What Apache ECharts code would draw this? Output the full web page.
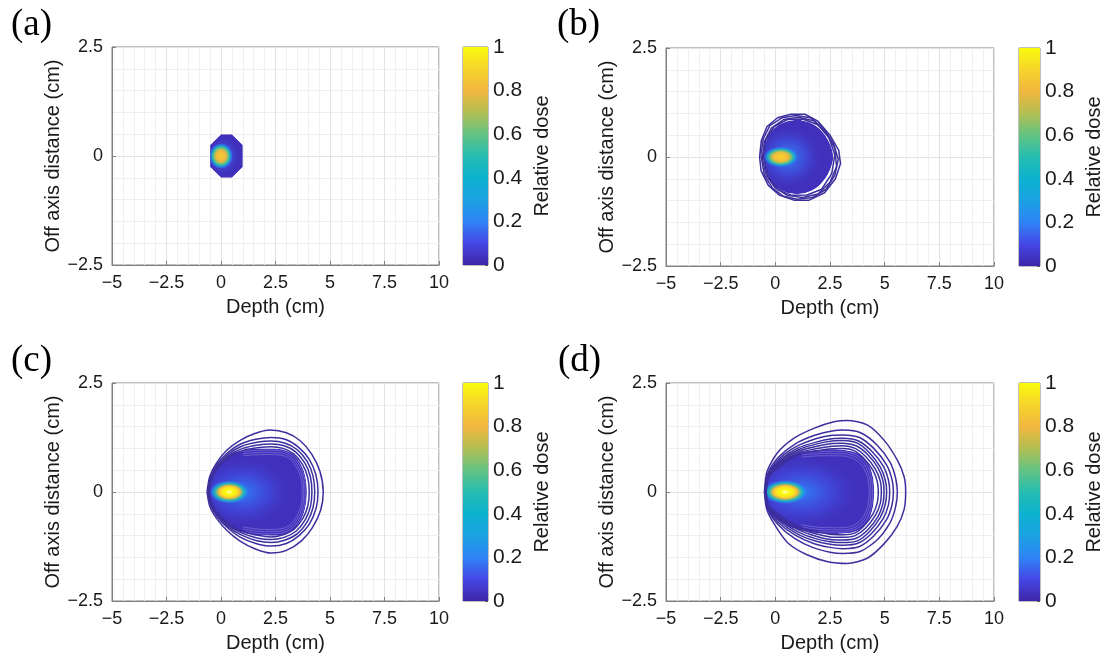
<!DOCTYPE html>
<html>
<head>
<meta charset="utf-8">
<title>Relative dose distributions</title>
<script src="https://cdn.jsdelivr.net/npm/echarts@6/dist/echarts.min.js"></script>
<style>
  html, body { margin: 0; padding: 0; background: #fff; }
  #chart { width: 1105px; height: 656px; }
</style>
</head>
<body>
<div id="chart"></div>
<script>
// axis ticks
const depthTicks = [-5, -2.5, 0, 2.5, 5, 7.5, 10];
const offAxisTicks = [-2.5, 0, 2.5];
const doseTicks = [0, 0.2, 0.4, 0.6, 0.8, 1];
const panelLabels = ['(a)', '(b)', '(c)', '(d)'];

// filled dose region outlines [depth, off axis] (cm)
const regionA = [[-0.5, 0.25], [0, 0.5], [0.5, 0.5], [1.0, 0.25], [1.0, -0.25], [0.5, -0.5], [0, -0.5], [-0.5, -0.25]];
const regionB = [[-0.52, 0], [-0.42, 0.36], [-0.05, 0.66], [0.55, 0.82], [1.25, 0.84], [1.9, 0.7], [2.4, 0.4], [2.65, 0],
  [2.4, -0.4], [1.9, -0.7], [1.25, -0.84], [0.55, -0.82], [-0.05, -0.66], [-0.42, -0.36]];
const regionC = [[-0.52, 0], [-0.42, 0.32], [-0.05, 0.64], [0.5, 0.88], [1.2, 0.98], [2.0, 1.0], [2.8, 0.98], [3.35, 0.85],
  [3.75, 0.55], [3.92, 0.2], [3.92, -0.2], [3.75, -0.55], [3.35, -0.85], [2.8, -0.98], [2.0, -1.0], [1.2, -0.96],
  [0.5, -0.84], [-0.05, -0.6], [-0.42, -0.3]];
const regionD = [[-0.5, 0], [-0.45, 0.22], [0.03, 0.64], [0.95, 0.88], [2.0, 0.97], [3.0, 0.97], [3.7, 0.9], [4.2, 0.7],
  [4.45, 0.38], [4.52, 0], [4.45, -0.38], [4.2, -0.7], [3.7, -0.9], [3.0, -0.96], [2.0, -0.95], [0.95, -0.85],
  [0.03, -0.6], [-0.45, -0.2]];

// broad low-dose glow: [depth, off, half width, half height, dose]
const glowA = [0.1, 0, 0.8, 0.45, 0.22];
const glowB = [0.6, 0, 1.6, 0.75, 0.22];
const glowC = [1.0, 0, 2.4, 0.85, 0.2];
const glowD = [1.2, 0, 2.8, 0.9, 0.2];

// high-dose core: [depth, off, half width, half height, peak dose]
const hotA = [0.0, 0, 0.55, 0.3, 0.85];
const hotB = [0.25, 0, 0.8, 0.24, 0.87];
const hotC = [0.38, 0, 0.92, 0.27, 1.0];
const hotD = [0.45, 0, 1.05, 0.28, 1.0];

// isodose contour lines [depth, off axis] (cm)
const contoursB = [
  [[-0.72, 0.0], [-0.64, 0.38], [-0.38, 0.7], [0.1, 0.9], [0.7, 0.98], [1.35, 0.98], [1.95, 0.82], [2.5, 0.5], [2.9, 0.15],
   [2.98, -0.15], [2.75, -0.5], [2.25, -0.82], [1.55, -0.99], [0.85, -0.99], [0.2, -0.88], [-0.32, -0.65], [-0.65, -0.32]],
  [[-0.66, 0.05], [-0.55, 0.42], [-0.25, 0.72], [0.3, 0.9], [0.95, 0.95], [1.6, 0.9], [2.2, 0.66], [2.65, 0.32], [2.88, -0.05],
   [2.72, -0.42], [2.32, -0.74], [1.7, -0.93], [1.0, -0.97], [0.38, -0.9], [-0.12, -0.72], [-0.5, -0.42]],
  [[-0.6, -0.04], [-0.5, 0.36], [-0.18, 0.66], [0.38, 0.86], [1.05, 0.91], [1.75, 0.83], [2.32, 0.56], [2.72, 0.2],
   [2.8, -0.22], [2.5, -0.58], [1.95, -0.85], [1.25, -0.93], [0.55, -0.88], [-0.02, -0.7], [-0.42, -0.42]],
  [[-0.55, 0.0], [-0.44, 0.38], [-0.05, 0.7], [0.55, 0.86], [1.25, 0.87], [1.95, 0.74], [2.45, 0.44], [2.72, 0.05],
   [2.58, -0.38], [2.12, -0.74], [1.45, -0.87], [0.75, -0.88], [0.12, -0.75], [-0.33, -0.46]]
];
const contoursC = [
  [[-0.64, 0], [-0.52, 0.35], [-0.21, 0.66], [0.25, 0.95], [0.86, 1.18], [1.55, 1.34], [2.24, 1.42], [3.0, 1.36], [3.62, 1.18],
   [4.16, 0.87], [4.54, 0.47], [4.69, 0], [4.57, -0.42], [4.2, -0.81], [3.69, -1.12], [3.0, -1.34], [2.3, -1.4], [1.55, -1.3],
   [0.86, -1.12], [0.25, -0.87], [-0.21, -0.6], [-0.52, -0.32]],
  [[-0.6, 0], [-0.48, 0.34], [-0.17, 0.64], [0.3, 0.9], [0.9, 1.1], [1.6, 1.21], [2.3, 1.25], [3.0, 1.2], [3.55, 1.03],
   [4.05, 0.75], [4.35, 0.4], [4.45, 0], [4.36, -0.38], [4.06, -0.73], [3.58, -1.0], [3.0, -1.18], [2.3, -1.24], [1.6, -1.18],
   [0.9, -1.04], [0.3, -0.82], [-0.17, -0.57], [-0.48, -0.3]],
  [[-0.58, 0], [-0.45, 0.33], [-0.14, 0.62], [0.33, 0.87], [0.95, 1.05], [1.65, 1.14], [2.3, 1.17], [2.95, 1.12], [3.5, 0.97],
   [3.95, 0.7], [4.22, 0.37], [4.3, 0], [4.22, -0.36], [3.96, -0.68], [3.52, -0.95], [2.95, -1.1], [2.3, -1.16], [1.65, -1.12],
   [0.95, -0.99], [0.33, -0.8], [-0.14, -0.55], [-0.45, -0.29]],
  [[-0.56, 0], [-0.43, 0.32], [-0.12, 0.6], [0.36, 0.84], [1.0, 1.0], [1.7, 1.08], [2.3, 1.1], [2.9, 1.06], [3.42, 0.92],
   [3.85, 0.66], [4.1, 0.35], [4.17, 0], [4.1, -0.34], [3.86, -0.64], [3.44, -0.9], [2.9, -1.04], [2.3, -1.09], [1.7, -1.06],
   [1.0, -0.95], [0.36, -0.77], [-0.12, -0.53], [-0.43, -0.28]],
  [[-0.54, 0], [-0.41, 0.31], [-0.1, 0.58], [0.4, 0.81], [1.05, 0.96], [1.75, 1.02], [2.3, 1.04], [2.85, 1.0], [3.35, 0.87],
   [3.75, 0.62], [3.98, 0.33], [4.05, 0], [3.98, -0.32], [3.76, -0.6], [3.36, -0.85], [2.85, -0.98], [2.3, -1.03], [1.75, -1.0],
   [1.05, -0.91], [0.4, -0.74], [-0.1, -0.51], [-0.41, -0.27]]
];
const contoursD = [
  [[-0.5, 0], [-0.38, 0.47], [0.08, 0.89], [0.84, 1.23], [1.76, 1.46], [2.68, 1.61], [3.29, 1.64], [4.2, 1.54], [4.97, 1.19],
   [5.58, 0.73], [5.89, 0.35], [5.96, 0], [5.89, -0.4], [5.58, -0.78], [4.97, -1.19], [4.2, -1.52], [3.29, -1.64], [2.4, -1.6],
   [1.45, -1.44], [0.6, -1.18], [0.08, -0.84], [-0.38, -0.42]],
  [[-0.48, 0], [-0.34, 0.43], [0.15, 0.8], [0.9, 1.1], [1.8, 1.3], [2.6, 1.4], [3.1, 1.42], [3.9, 1.36], [4.65, 1.08],
   [5.25, 0.68], [5.5, 0.32], [5.58, 0], [5.5, -0.34], [5.25, -0.7], [4.65, -1.1], [3.9, -1.36], [3.1, -1.41], [2.5, -1.38],
   [1.7, -1.27], [0.9, -1.07], [0.15, -0.76], [-0.34, -0.4]],
  [[-0.47, 0], [-0.33, 0.41], [0.2, 0.77], [0.95, 1.04], [1.85, 1.22], [2.6, 1.3], [3.1, 1.31], [3.85, 1.25], [4.5, 1.0],
   [5.08, 0.63], [5.33, 0.3], [5.4, 0], [5.33, -0.31], [5.08, -0.64], [4.5, -1.01], [3.85, -1.25], [3.1, -1.3], [2.5, -1.27],
   [1.75, -1.18], [0.95, -1.0], [0.2, -0.73], [-0.33, -0.38]],
  [[-0.46, 0], [-0.32, 0.4], [0.25, 0.75], [1.0, 1.0], [1.9, 1.15], [2.6, 1.22], [3.1, 1.23], [3.8, 1.17], [4.4, 0.94],
   [4.93, 0.6], [5.17, 0.28], [5.23, 0], [5.17, -0.3], [4.93, -0.61], [4.4, -0.95], [3.8, -1.17], [3.1, -1.22], [2.5, -1.2],
   [1.8, -1.12], [1.0, -0.96], [0.25, -0.7], [-0.32, -0.37]],
  [[-0.45, 0], [-0.31, 0.39], [0.3, 0.74], [1.05, 0.97], [1.95, 1.11], [2.6, 1.17], [3.1, 1.18], [3.75, 1.12], [4.3, 0.9],
   [4.8, 0.57], [5.03, 0.27], [5.09, 0], [5.03, -0.28], [4.8, -0.58], [4.3, -0.91], [3.75, -1.12], [3.1, -1.16], [2.5, -1.14],
   [1.85, -1.07], [1.05, -0.92], [0.3, -0.68], [-0.31, -0.36]],
  [[-0.44, 0], [-0.3, 0.38], [0.35, 0.72], [1.1, 0.94], [2.0, 1.06], [2.6, 1.11], [3.1, 1.12], [3.7, 1.06], [4.22, 0.86],
   [4.7, 0.55], [4.92, 0.26], [4.97, 0], [4.92, -0.27], [4.7, -0.56], [4.22, -0.87], [3.7, -1.06], [3.1, -1.1], [2.5, -1.09],
   [1.9, -1.02], [1.1, -0.88], [0.35, -0.66], [-0.3, -0.35]],
  [[-0.43, 0], [-0.29, 0.37], [0.4, 0.7], [1.15, 0.91], [2.05, 1.01], [2.6, 1.05], [3.1, 1.06], [3.65, 1.0], [4.12, 0.82],
   [4.58, 0.52], [4.8, 0.25], [4.85, 0], [4.8, -0.26], [4.58, -0.53], [4.12, -0.83], [3.65, -1.0], [3.1, -1.04], [2.5, -1.03],
   [1.95, -0.97], [1.15, -0.85], [0.4, -0.64], [-0.29, -0.34]],
  [[-0.42, 0], [-0.28, 0.36], [0.45, 0.68], [1.2, 0.88], [2.1, 0.96], [2.6, 0.99], [3.1, 1.0], [3.6, 0.95], [4.03, 0.78],
   [4.46, 0.5], [4.66, 0.24], [4.71, 0], [4.66, -0.25], [4.46, -0.51], [4.03, -0.79], [3.6, -0.95], [3.1, -0.98], [2.5, -0.97],
   [2.0, -0.92], [1.2, -0.82], [0.45, -0.62], [-0.28, -0.33]]
];

// faint dense isodose lines along the inside edge of the fill (open arcs)
const striaC = [
  [[1.0, 0.93], [2.0, 0.96], [2.8, 0.94], [3.3, 0.82], [3.7, 0.52], [3.86, 0.18], [3.86, -0.18], [3.7, -0.52], [3.3, -0.82], [2.8, -0.94], [2.0, -0.96], [1.0, -0.9]],
  [[1.0, 0.88], [2.0, 0.91], [2.8, 0.89], [3.25, 0.78], [3.63, 0.5], [3.79, 0.17], [3.79, -0.17], [3.63, -0.5], [3.25, -0.78], [2.8, -0.89], [2.0, -0.91], [1.0, -0.85]],
  [[1.0, 0.83], [2.0, 0.86], [2.8, 0.84], [3.2, 0.74], [3.56, 0.47], [3.72, 0.16], [3.72, -0.16], [3.56, -0.47], [3.2, -0.74], [2.8, -0.84], [2.0, -0.86], [1.0, -0.8]]
];
const striaD = [
  [[1.2, 0.9], [2.0, 0.93], [3.0, 0.93], [3.65, 0.86], [4.13, 0.67], [4.38, 0.36], [4.45, 0], [4.38, -0.36], [4.13, -0.67], [3.65, -0.86], [3.0, -0.92], [2.0, -0.91], [1.2, -0.85]],
  [[1.2, 0.85], [2.0, 0.88], [3.0, 0.88], [3.6, 0.82], [4.06, 0.63], [4.3, 0.34], [4.37, 0], [4.3, -0.34], [4.06, -0.63], [3.6, -0.82], [3.0, -0.87], [2.0, -0.86], [1.2, -0.8]],
  [[1.2, 0.8], [2.0, 0.83], [3.0, 0.83], [3.55, 0.77], [3.99, 0.59], [4.22, 0.32], [4.29, 0], [4.22, -0.32], [3.99, -0.59], [3.55, -0.77], [3.0, -0.82], [2.0, -0.81], [1.2, -0.75]]
];

// parula-like colour map
const COLORMAP = [
  [0.0, '#3e26a8'], [0.1, '#4547e6'], [0.2, '#2e84f6'], [0.3, '#1ba1e2'], [0.4, '#0cb2cf'], [0.5, '#25bdb0'],
  [0.6, '#63c383'], [0.7, '#b2bf52'], [0.8, '#f2b63f'], [0.9, '#f6d42c'], [1.0, '#f9fb0e']
];

function hexToRgb(h) {
  return [1, 3, 5].map(i => parseInt(h.substr(i, 2), 16));
}
function doseColor(v, alpha) {
  v = Math.max(0, Math.min(1, v));
  let i = 0;
  while (i < COLORMAP.length - 2 && v > COLORMAP[i + 1][0]) i++;
  const t = (v - COLORMAP[i][0]) / (COLORMAP[i + 1][0] - COLORMAP[i][0]);
  const a = hexToRgb(COLORMAP[i][1]), b = hexToRgb(COLORMAP[i + 1][1]);
  const rgb = a.map((x, k) => Math.round(x + (b[k] - x) * t));
  return 'rgba(' + rgb.join(',') + ',' + (alpha == null ? 1 : alpha) + ')';
}

const panels = [
  { grid: [112, 47, 327, 218], bar: [463, 47, 25, 218], region: regionA, smooth: 0, glow: glowA, hot: hotA, contours: [], stria: [] },
  { grid: [666, 48, 328, 218], bar: [1019, 48, 25, 218], region: regionB, smooth: 0.3, glow: glowB, hot: hotB, contours: contoursB, stria: [] },
  { grid: [112, 383, 327, 218], bar: [463, 383, 25, 218], region: regionC, smooth: 0.3, glow: glowC, hot: hotC, contours: contoursC, stria: striaC },
  { grid: [666, 383, 328, 218], bar: [1019, 383, 25, 218], region: regionD, smooth: 0.3, glow: glowD, hot: hotD, contours: contoursD, stria: striaD }
];
const labelPos = [[6, 2], [552, 2], [6, 338], [553, 338]];

const fmt = v => (v < 0 ? '\u2212' + Math.abs(v) : String(v));
const axisGray = '#808080';
const txt = '#1a1a1a';

const glowGrad = d => new echarts.graphic.RadialGradient(0.5, 0.5, 0.5, [
  { offset: 0, color: doseColor(d, 0.95) },
  { offset: 0.5, color: doseColor(d * 0.6, 0.6) },
  { offset: 1, color: doseColor(0.04, 0) }
]);
const coreGrad = p => new echarts.graphic.RadialGradient(0.5, 0.5, 0.5, [
  { offset: 0, color: p >= 1 ? '#fffbd8' : doseColor(p) },
  { offset: 0.18, color: doseColor(p) },
  { offset: 0.4, color: doseColor(p * 0.94) },
  { offset: 0.54, color: doseColor(p * 0.8) },
  { offset: 0.67, color: doseColor(0.55, 0.95) },
  { offset: 0.8, color: doseColor(0.36, 0.8) },
  { offset: 0.9, color: doseColor(0.22, 0.45) },
  { offset: 1, color: doseColor(0.12, 0) }
]);

function ellipse(api, e, grad) {
  const c = api.coord([e[0], e[1]]);
  const s = api.size([e[2], e[3]]);
  return {
    type: 'circle', x: c[0], y: c[1], scaleX: s[0], scaleY: s[1],
    shape: { cx: 0, cy: 0, r: 1 },
    style: { fill: grad(e[4]) }
  };
}

const grids = [], xAxes = [], yAxes = [], series = [], titles = [];

panels.forEach((p, i) => {
  const g = grids.length;
  grids.push({ left: p.grid[0], top: p.grid[1], width: p.grid[2], height: p.grid[3],
    show: true, borderColor: axisGray, borderWidth: 1 });
  xAxes.push({
    gridIndex: g, type: 'value',
    min: depthTicks[0], max: depthTicks[depthTicks.length - 1], interval: depthTicks[1] - depthTicks[0],
    name: 'Depth (cm)', nameLocation: 'middle', nameGap: 32,
    nameTextStyle: { fontSize: 20, color: txt },
    axisLine: { onZero: false, lineStyle: { color: axisGray } },
    axisTick: { inside: true, length: 4, lineStyle: { color: axisGray } },
    axisLabel: { fontSize: 18, color: txt, margin: 9, formatter: fmt },
    splitLine: { lineStyle: { color: '#e2e2e2' } },
    minorTick: { show: false, splitNumber: 5 },
    minorSplitLine: { show: true, lineStyle: { color: '#efefef' } }
  });
  yAxes.push({
    gridIndex: g, type: 'value',
    min: offAxisTicks[0], max: offAxisTicks[offAxisTicks.length - 1], interval: offAxisTicks[1] - offAxisTicks[0],
    name: 'Off axis distance (cm)', nameLocation: 'middle', nameGap: 46,
    nameTextStyle: { fontSize: 20, color: txt },
    axisLine: { onZero: false, lineStyle: { color: axisGray } },
    axisTick: { inside: true, length: 4, lineStyle: { color: axisGray } },
    axisLabel: { fontSize: 18, color: txt, margin: 9, formatter: fmt },
    splitLine: { lineStyle: { color: '#e2e2e2' } },
    minorTick: { show: false, splitNumber: 5 },
    minorSplitLine: { show: true, lineStyle: { color: '#efefef' } }
  });

  // filled dose region, shading clipped to its outline
  series.push({
    type: 'custom', xAxisIndex: g, yAxisIndex: g, silent: true, clip: true, data: [[0, 0]],
    renderItem: (params, api) => {
      const pts = p.region.map(pt => api.coord(pt));
      return {
        type: 'group',
        clipPath: { type: 'polygon', shape: { points: pts, smooth: p.smooth } },
        children: [
          { type: 'polygon', shape: { points: pts, smooth: p.smooth }, style: { fill: doseColor(0.03) } },
          ellipse(api, p.glow, glowGrad),
          ellipse(api, p.hot, coreGrad)
        ]
      };
    }
  });

  // faint lines just inside the fill edge
  p.stria.forEach(arc => {
    series.push({
      type: 'line', xAxisIndex: g, yAxisIndex: g, silent: true,
      data: arc, showSymbol: false, smooth: 0.3,
      lineStyle: { color: 'rgba(160,150,230,0.45)', width: 1 }
    });
  });

  // isodose lines
  p.contours.forEach(ring => {
    series.push({
      type: 'line', xAxisIndex: g, yAxisIndex: g, silent: true,
      data: ring.concat([ring[0]]), showSymbol: false, smooth: i === 1 ? false : 0.25,
      lineStyle: { color: '#3d2f9e', width: 1.5 }
    });
  });

  // colour bar
  const cb = grids.length;
  grids.push({ left: p.bar[0], top: p.bar[1], width: p.bar[2], height: p.bar[3],
    show: true, borderColor: axisGray, borderWidth: 1 });
  xAxes.push({ gridIndex: cb, type: 'category', data: [''], show: false });
  yAxes.push({
    gridIndex: cb, type: 'value', position: 'right',
    min: doseTicks[0], max: doseTicks[doseTicks.length - 1], interval: doseTicks[1] - doseTicks[0],
    name: 'Relative dose', nameLocation: 'middle', nameGap: 44, nameRotate: 90,
    nameTextStyle: { fontSize: 20, color: txt },
    axisLine: { show: false },
    axisTick: { show: true, inside: true, length: 3, lineStyle: { color: '#555' } },
    axisLabel: { fontSize: 21, color: txt, margin: 5, formatter: v => String(+v.toFixed(1)) },
    splitLine: { show: false }
  });
  series.push({
    type: 'bar', xAxisIndex: cb, yAxisIndex: cb, silent: true, data: [1], barWidth: '100%',
    itemStyle: { color: new echarts.graphic.LinearGradient(0, 1, 0, 0,
      COLORMAP.map(s => ({ offset: s[0], color: s[1] }))) }
  });

  titles.push({
    text: panelLabels[i], left: labelPos[i][0], top: labelPos[i][1],
    textStyle: { fontFamily: 'Liberation Serif', fontSize: 37, fontWeight: 'normal', color: '#000' }
  });
});

const chart = echarts.init(document.getElementById('chart'));
chart.setOption({
  animation: false,
  backgroundColor: '#fff',
  textStyle: { fontFamily: 'Liberation Sans' },
  title: titles,
  grid: grids,
  xAxis: xAxes,
  yAxis: yAxes,
  series: series
});
</script>
</body>
</html>
